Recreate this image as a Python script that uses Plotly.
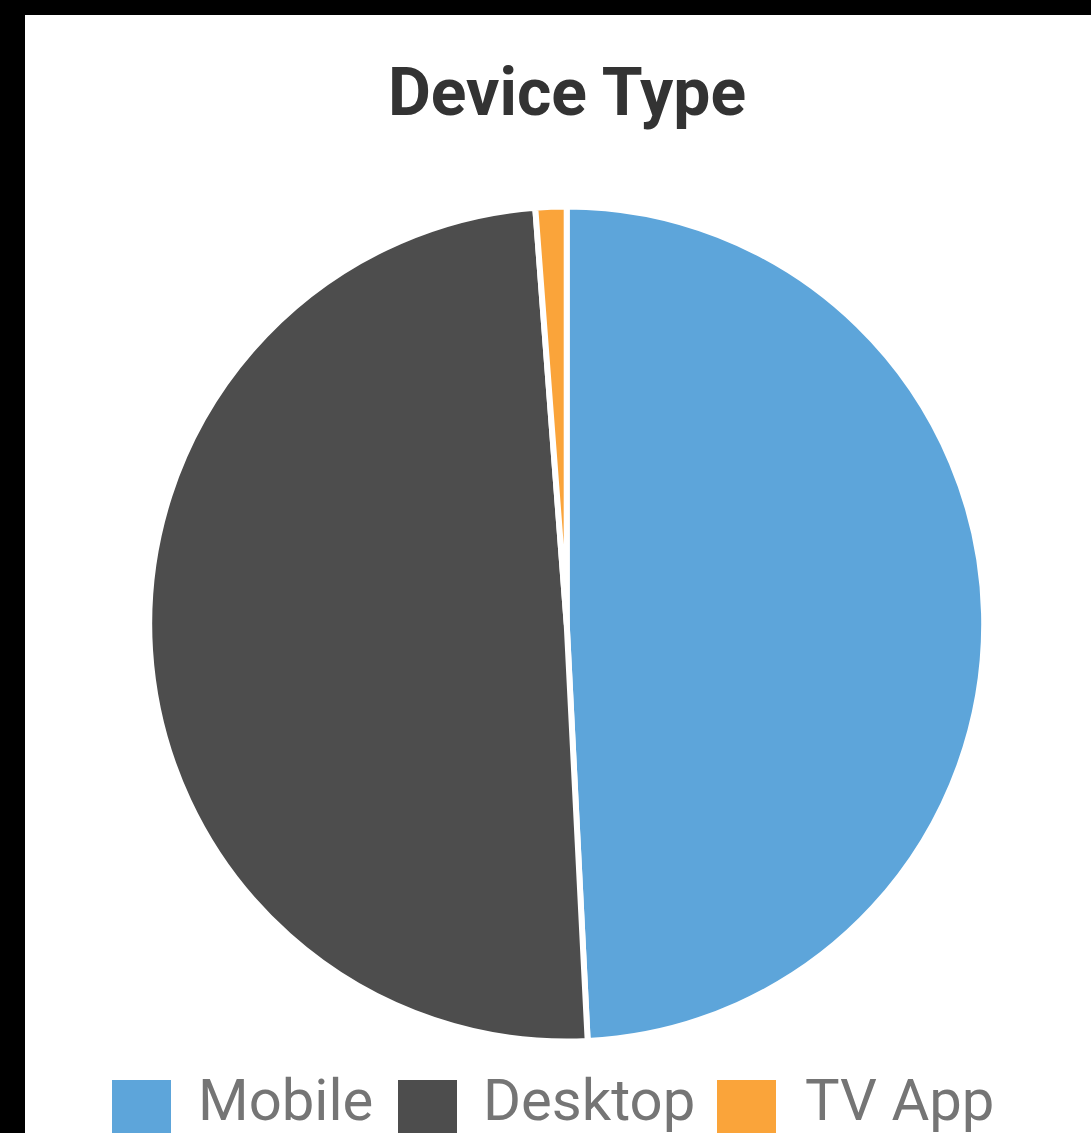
import plotly.graph_objects as go

# ---- data ----
categories = ["Mobile", "Desktop", "TV App"]
shares = [49.2, 49.6, 1.2]
colors = ["#5DA5DA", "#4D4D4D", "#FAA43A"]
title_text = "Device Type"

# ---- layout constants (figure pixels) ----
W, H = 1066, 1118
cx, cy, r = 541.7, 609.0, 417.5

fig = go.Figure()
fig.add_trace(go.Pie(
    labels=categories,
    values=shares,
    sort=False,
    direction="clockwise",
    rotation=0,
    marker=dict(colors=colors, line=dict(color="#FFFFFF", width=6)),
    textinfo="none",
    hoverinfo="label+percent",
    showlegend=False,
    domain=dict(x=[(cx - r) / W, (cx + r) / W],
                y=[(H - cy - r) / H, (H - cy + r) / H]),
))

# ---- manual legend (large swatches like the reference) ----
swatch_x = [87, 373, 692]     # left edge of each swatch (figure px)
text_x = [171, 456, 778]      # left edge of each label (figure px)
sw = 59
legend_top = 1065
shapes = []
annotations = []
for i, name in enumerate(categories):
    shapes.append(dict(
        type="rect", xref="paper", yref="paper",
        x0=swatch_x[i] / W, x1=(swatch_x[i] + sw) / W,
        y0=(H - legend_top - sw) / H, y1=(H - legend_top) / H,
        fillcolor=colors[i], line=dict(width=0),
    ))
    annotations.append(dict(
        text=name, xref="paper", yref="paper",
        x=text_x[i] / W, y=(H - 1085) / H,
        xanchor="left", yanchor="middle", showarrow=False,
        font=dict(family="Roboto", size=58, color="#757575"),
    ))

fig.update_layout(
    width=W, height=H,
    margin=dict(l=0, r=0, t=0, b=0),
    paper_bgcolor="#FFFFFF",
    plot_bgcolor="#FFFFFF",
    title=dict(
        text=title_text, x=542 / W, xanchor="center",
        y=1 - 76.5 / H, yanchor="middle", yref="container",
        font=dict(family="Roboto", size=66, color="#333333", weight="bold"),
    ),
    shapes=shapes,
    annotations=annotations,
)

fig.write_html(
    "out.html",
    post_script="document.body.style.margin='15px 0 0 25px';"
                "document.body.style.background='#000';"
                "document.body.style.overflow='hidden';",
)
